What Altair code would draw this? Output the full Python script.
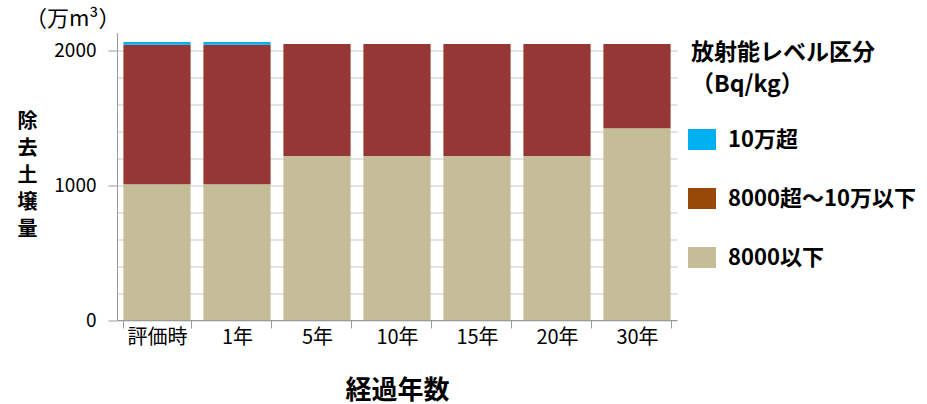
import altair as alt
import pandas as pd

categories = ["評価時", "1年", "5年", "10年", "15年", "20年", "30年"]
levels = ["10万超", "8000超～10万以下", "8000以下"]
low_vals = [1005, 1005, 1215, 1215, 1215, 1215, 1420]
mid_vals = [1035, 1035, 830, 830, 830, 830, 625]
high_vals = [20, 20, 0, 0, 0, 0, 0]

bar_colors = ["#00B0F0", "#953735", "#C4BD97"]
legend_colors = ["#00B0F0", "#984807", "#C4BD97"]

rows = []
for i, c in enumerate(categories):
    rows.append({"cat": c, "level": levels[2], "value": low_vals[i], "ord": 0})
    rows.append({"cat": c, "level": levels[1], "value": mid_vals[i], "ord": 1})
    rows.append({"cat": c, "level": levels[0], "value": high_vals[i], "ord": 2})
df = pd.DataFrame(rows)
df["zero"] = 0

FONT = "Noto Sans CJK JP"
Y_SCALE = alt.Scale(domain=[0, 2130], nice=False)

x_enc = alt.X(
    "cat:N",
    sort=categories,
    scale=alt.Scale(paddingInner=0.16, paddingOuter=0.08),
    axis=alt.Axis(
        title="経過年数",
        titleFontSize=26,
        titleFontWeight="bold",
        titleColor="black",
        titleY=70,
        titleBaseline="middle",
        labelAngle=0,
        labelAlign="center",
        labelFontSize=20,
        labelColor="black",
        labelPadding=9,
        tickBand="extent",
        tickSize=8,
        tickColor="#999999",
        domainColor="#999999",
        grid=False,
    ),
)

y_axis = alt.Axis(
    orient="left",
    values=[0, 1000, 2000],
    format="d",
    labelFontSize=19,
    labelColor="black",
    labelPadding=12,
    labelOverlap=False,
    tickSize=9,
    tickColor="#999999",
    domainColor="#999999",
    grid=False,
    title=["除", "去", "土", "壌", "量"],
    titleAngle=0,
    titleFontSize=20,
    titleFontWeight="bold",
    titleColor="black",
    titleLineHeight=27,
    titleAlign="center",
    titleBaseline="top",
    titleX=-90,
    titleY=79,
)

grid_axis = alt.Axis(
    orient="right",
    values=list(range(0, 2001, 200)),
    grid=True,
    gridColor="#C8C8C8",
    labels=False,
    ticks=False,
    domain=False,
    title=None,
)

bars = alt.Chart(df).mark_bar().encode(
    x=x_enc,
    y=alt.Y("value:Q", stack="zero", scale=Y_SCALE, axis=y_axis),
    fill=alt.Fill("level:N", scale=alt.Scale(domain=levels, range=bar_colors), legend=None),
    order=alt.Order("ord:Q", sort="ascending"),
)

legend_layer = alt.Chart(df).mark_bar().encode(
    x=alt.X("cat:N", sort=categories),
    y=alt.Y("zero:Q", stack=None, scale=Y_SCALE, axis=grid_axis),
    color=alt.Color(
        "level:N",
        scale=alt.Scale(domain=levels, range=legend_colors),
        legend=alt.Legend(
            title=["\u2002放射能レベル区分", "\u2003\u2005（Bq/kg）"],
            orient="none",
            legendX=574,
            legendY=9,
            padding=0,
            titleFontSize=23,
            titleFontWeight="bold",
            titleColor="black",
            titleLineHeight=32,
            titleLimit=340,
            titlePadding=32,
            labelFontSize=22,
            labelFontWeight="bold",
            labelColor="black",
            labelOffset=15,
            labelLimit=300,
            rowPadding=37,
            symbolType="M-1.333,-1H1.333V1H-1.333Z",
            symbolSize=441,
            symbolStrokeWidth=0,
            symbolOpacity=1,
        ),
    ),
)

unit_text = alt.Chart(pd.DataFrame({"t": ["（万m³）"]})).mark_text(
    align="left", baseline="middle", fontSize=22, font=FONT, color="black"
).encode(x=alt.value(-92), y=alt.value(-14), text="t:N")

chart = alt.layer(legend_layer, bars, unit_text).resolve_axis(y="independent").properties(
    width=560,
    height=287.5,
    autosize=alt.AutoSizeParams(type="none"),
    padding={"left": 117, "top": 32.5, "right": 250, "bottom": 84},
).configure(font=FONT).configure_view(stroke=None)

chart.save("out.html", embed_options={"renderer": "svg", "actions": False})
